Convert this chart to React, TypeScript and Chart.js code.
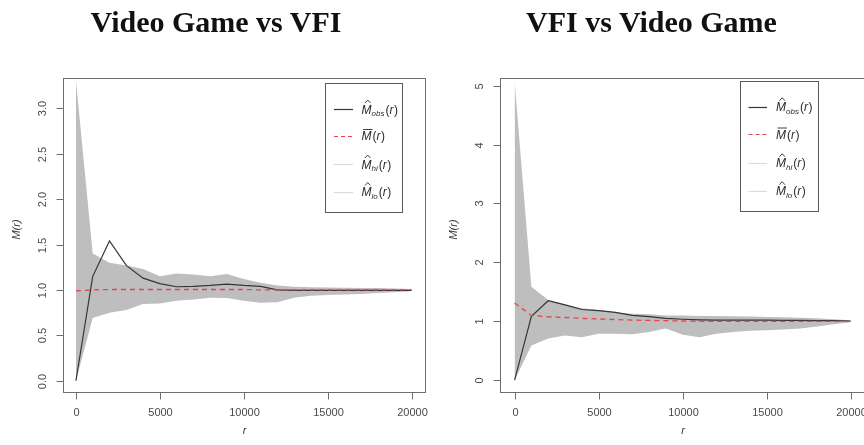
import React, { useEffect, useRef } from "react";
import { Chart, registerables } from "chart.js";

Chart.register(...registerables);

// ---------- data ----------
const R_VALUES = [0, 1000, 2000, 3000, 4000, 5000, 6000, 7000, 8000, 9000, 10000, 11000, 12000, 13000, 14000, 15000, 16000, 17000, 18000, 19000, 20000];

const LEFT_OBS = [0, 1.15, 1.54, 1.27, 1.13, 1.07, 1.035, 1.04, 1.05, 1.065, 1.05, 1.04, 1.0, 0.995, 0.995, 0.995, 0.995, 0.995, 0.995, 0.995, 0.995];
const LEFT_MEAN = [0.99, 1.0, 1.005, 1.005, 1.005, 1.005, 1.005, 1.005, 1.005, 1.005, 1.005, 1.0, 1.0, 1.0, 1.0, 1.0, 1.0, 1.0, 1.0, 1.0, 1.0];
const LEFT_HI = [3.31, 1.4, 1.3, 1.27, 1.23, 1.15, 1.18, 1.17, 1.15, 1.175, 1.12, 1.08, 1.05, 1.035, 1.03, 1.027, 1.025, 1.022, 1.02, 1.015, 1.01];
const LEFT_LO = [0, 0.69, 0.75, 0.78, 0.845, 0.85, 0.88, 0.895, 0.915, 0.91, 0.88, 0.86, 0.865, 0.915, 0.935, 0.945, 0.95, 0.955, 0.965, 0.975, 0.985];

const RIGHT_OBS = [0, 1.085, 1.35, 1.28, 1.2, 1.18, 1.15, 1.1, 1.08, 1.05, 1.035, 1.025, 1.02, 1.02, 1.02, 1.02, 1.015, 1.015, 1.01, 1.01, 1.005];
const RIGHT_MEAN = [1.31, 1.1, 1.075, 1.065, 1.05, 1.04, 1.03, 1.02, 1.015, 1.01, 1.005, 1.0, 1.0, 1.0, 1.0, 1.0, 1.0, 1.0, 1.0, 1.0, 1.0];
const RIGHT_HI = [5.08, 1.585, 1.36, 1.29, 1.22, 1.19, 1.155, 1.13, 1.12, 1.1, 1.1, 1.09, 1.09, 1.085, 1.08, 1.075, 1.07, 1.06, 1.05, 1.035, 1.02];
const RIGHT_LO = [0, 0.59, 0.71, 0.76, 0.73, 0.79, 0.79, 0.78, 0.82, 0.88, 0.77, 0.73, 0.79, 0.82, 0.84, 0.85, 0.86, 0.88, 0.91, 0.95, 0.985];

const X_TICKS = [0, 5000, 10000, 15000, 20000];
const LEFT_Y_TICKS = [0, 0.5, 1.0, 1.5, 2.0, 2.5, 3.0];
const LEFT_Y_LABELS = ["0.0", "0.5", "1.0", "1.5", "2.0", "2.5", "3.0"];
const RIGHT_Y_TICKS = [0, 1, 2, 3, 4, 5];
const RIGHT_Y_LABELS = ["0", "1", "2", "3", "4", "5"];

const TITLES = ["Video Game vs VFI", "VFI vs Video Game"];

// ---------- styles ----------
const ENVELOPE = "#bebebe";
const OBS_COLOR = "#353535";
const MEAN_COLOR = "#e8404f";
const LIGHT_LINE = "#dadada";
const AXIS_COLOR = "#6e6e6e";
const TICK_TEXT = "#4a4a4a";
const SANS = '"Liberation Sans", Arial, sans-serif';

type Legend = { x: number; y: number; w: number; h: number; lx1: number; lx2: number; tx: number; rows: number[] };
type Panel = {
  obs: number[]; mean: number[]; hi: number[]; lo: number[];
  xMin: number; xMax: number; yMin: number; yMax: number;
  yTicks: number[]; yLabels: string[];
  left: number; width: number;
  padding: { left: number; top: number; right: number; bottom: number };
  legend: Legend;
};

const PANELS: Panel[] = [
  {
    obs: LEFT_OBS, mean: LEFT_MEAN, hi: LEFT_HI, lo: LEFT_LO,
    xMin: -800, xMax: 20800, yMin: -0.124, yMax: 3.334,
    yTicks: LEFT_Y_TICKS, yLabels: LEFT_Y_LABELS,
    left: 0, width: 432,
    padding: { left: 62.5, top: 78, right: 7, bottom: 53 },
    legend: { x: 325, y: 82.5, w: 76.5, h: 128.5, lx1: 334, lx2: 353, tx: 361.5, rows: [109, 135.5, 164, 191.5] },
  },
  {
    obs: RIGHT_OBS, mean: RIGHT_MEAN, hi: RIGHT_HI, lo: RIGHT_LO,
    xMin: -850, xMax: 20850, yMin: -0.2, yMax: 5.13,
    yTicks: RIGHT_Y_TICKS, yLabels: RIGHT_Y_LABELS,
    left: 432, width: 440,
    padding: { left: 68.3, top: 78, right: 7, bottom: 53 },
    legend: { x: 307.5, y: 80.5, w: 77.5, h: 129.5, lx1: 316.5, lx2: 335, tx: 344, rows: [106.7, 134, 162.7, 190.7] },
  },
];

function drawMath(ctx: CanvasRenderingContext2D, x: number, base: number, accent: "hat" | "bar", sub: string | null) {
  ctx.fillStyle = "#2a2a2a";
  ctx.textAlign = "left";
  ctx.textBaseline = "alphabetic";
  ctx.font = `italic 12px ${SANS}`;
  ctx.fillText("M", x, base);
  const mw = ctx.measureText("M").width;
  ctx.strokeStyle = "#2a2a2a";
  ctx.lineWidth = 0.9;
  ctx.beginPath();
  if (accent === "hat") {
    ctx.moveTo(x + mw * 0.35, base - 10.5);
    ctx.lineTo(x + mw * 0.62, base - 13.5);
    ctx.lineTo(x + mw * 0.89, base - 10.5);
  } else {
    ctx.moveTo(x + 1.5, base - 10.5);
    ctx.lineTo(x + mw + 1, base - 10.5);
  }
  ctx.stroke();
  let cx = x + mw;
  if (sub) {
    ctx.font = `italic 8px ${SANS}`;
    ctx.fillText(sub, cx, base + 2.5);
    cx += ctx.measureText(sub).width;
  }
  ctx.font = `12px ${SANS}`;
  ctx.fillText("(", cx + 1, base);
  cx += 1 + ctx.measureText("(").width;
  ctx.font = `italic 12px ${SANS}`;
  ctx.fillText("r", cx, base);
  cx += ctx.measureText("r").width + 0.5;
  ctx.font = `12px ${SANS}`;
  ctx.fillText(")", cx, base);
}

function makeAxesPlugin(p: Panel) {
  return {
    id: "rAxes",
    afterDraw(chart: any) {
      const ctx: CanvasRenderingContext2D = chart.ctx;
      const a = chart.chartArea;
      const xs = chart.scales.x;
      const ys = chart.scales.y;
      ctx.save();
      ctx.strokeStyle = AXIS_COLOR;
      ctx.lineWidth = 1;
      const L = Math.round(a.left) + 0.5;
      const T = Math.round(a.top) + 0.5;
      const Rr = Math.round(a.right) + 0.5;
      const B = Math.round(a.bottom) + 0.5;
      ctx.strokeRect(L, T, Rr - L, B - T);

      ctx.fillStyle = TICK_TEXT;
      ctx.font = `11px ${SANS}`;
      ctx.textAlign = "center";
      ctx.textBaseline = "middle";
      for (const v of X_TICKS) {
        const px = Math.round(xs.getPixelForValue(v)) + 0.5;
        ctx.beginPath();
        ctx.moveTo(px, B);
        ctx.lineTo(px, B + 7);
        ctx.stroke();
        ctx.fillText(String(v), px, B + 20.5);
      }
      p.yTicks.forEach((v, i) => {
        const py = Math.round(ys.getPixelForValue(v)) + 0.5;
        ctx.beginPath();
        ctx.moveTo(L, py);
        ctx.lineTo(L - 7, py);
        ctx.stroke();
        ctx.save();
        ctx.translate(L - 20.5, py);
        ctx.rotate(-Math.PI / 2);
        ctx.fillText(p.yLabels[i], 0, 0);
        ctx.restore();
      });

      // axis titles
      ctx.font = `italic 11px ${SANS}`;
      ctx.fillStyle = "#3a3a3a";
      ctx.fillText("r", (L + Rr) / 2, B + 38);
      ctx.save();
      ctx.translate(L - 47, (T + B) / 2 - 6);
      ctx.rotate(-Math.PI / 2);
      ctx.fillText("M(r)", 0, 0);
      ctx.restore();

      // legend
      const lg = p.legend;
      ctx.fillStyle = "#ffffff";
      ctx.fillRect(lg.x, lg.y, lg.w, lg.h);
      ctx.strokeStyle = "#5a5a5a";
      ctx.lineWidth = 1;
      ctx.strokeRect(Math.round(lg.x) + 0.5, Math.round(lg.y) + 0.5, Math.round(lg.w), Math.round(lg.h));
      const styles = [
        { c: OBS_COLOR, dash: [] as number[], accent: "hat" as const, sub: "obs" },
        { c: MEAN_COLOR, dash: [4, 3], accent: "bar" as const, sub: null },
        { c: LIGHT_LINE, dash: [] as number[], accent: "hat" as const, sub: "hi" },
        { c: LIGHT_LINE, dash: [] as number[], accent: "hat" as const, sub: "lo" },
      ];
      styles.forEach((s, i) => {
        const y = Math.round(lg.rows[i]) + 0.5;
        ctx.strokeStyle = s.c;
        ctx.lineWidth = 1.2;
        ctx.setLineDash(s.dash);
        ctx.beginPath();
        ctx.moveTo(lg.lx1, y);
        ctx.lineTo(lg.lx2, y);
        ctx.stroke();
        ctx.setLineDash([]);
        drawMath(ctx, lg.tx, lg.rows[i] + 4.5, s.accent, s.sub);
      });
      ctx.restore();
    },
  };
}

function toPoints(vals: number[]) {
  return vals.map((v, i) => ({ x: R_VALUES[i], y: v }));
}

function PanelChart({ panel }: { panel: Panel }) {
  const ref = useRef<HTMLCanvasElement | null>(null);
  useEffect(() => {
    if (!ref.current) return;
    const chart = new Chart(ref.current, {
      type: "line",
      data: {
        datasets: [
          { label: "hi", data: toPoints(panel.hi), borderWidth: 0, borderColor: ENVELOPE, backgroundColor: ENVELOPE, fill: "+1", pointRadius: 0, tension: 0, order: 3 },
          { label: "lo", data: toPoints(panel.lo), borderWidth: 0, borderColor: ENVELOPE, backgroundColor: ENVELOPE, fill: false, pointRadius: 0, tension: 0, order: 3 },
          { label: "obs", data: toPoints(panel.obs), borderWidth: 1.2, borderColor: OBS_COLOR, fill: false, pointRadius: 0, tension: 0, order: 2 },
          { label: "mean", data: toPoints(panel.mean), borderWidth: 1.3, borderColor: MEAN_COLOR, borderDash: [5, 4], fill: false, pointRadius: 0, tension: 0, order: 1 },
        ],
      } as any,
      options: {
        animation: false,
        responsive: false,
        devicePixelRatio: 1,
        layout: { padding: panel.padding },
        plugins: { legend: { display: false }, tooltip: { enabled: false }, title: { display: false } },
        scales: {
          x: { type: "linear", min: panel.xMin, max: panel.xMax, display: false },
          y: { type: "linear", min: panel.yMin, max: panel.yMax, display: false },
        },
      } as any,
      plugins: [makeAxesPlugin(panel)],
    });
    return () => chart.destroy();
  }, [panel]);
  return (
    <canvas ref={ref} width={panel.width} height={445} style={{ position: "absolute", left: 0, top: 0, width: panel.width, height: 445 }} />
  );
}

export default function App() {
  return (
    <div style={{ position: "absolute", left: 0, top: 0, width: 864, height: 445, overflow: "hidden", background: "#fff" }}>
      {PANELS.map((p, i) => (
        <div key={i} style={{ position: "absolute", left: p.left, top: 0, width: 864 - p.left < 432 ? 864 - p.left : 432, height: 445, overflow: "hidden" }}>
          <PanelChart panel={p} />
        </div>
      ))}
      {TITLES.map((t, i) => (
        <div
          key={t}
          style={{
            position: "absolute",
            left: i === 0 ? 216 - 200 : 651.5 - 200,
            width: 400,
            top: 7,
            textAlign: "center",
            font: 'bold 30px "Liberation Serif", "Times New Roman", serif',
            lineHeight: "30px",
            color: "#111",
            whiteSpace: "nowrap",
          }}
        >
          {t}
        </div>
      ))}
    </div>
  );
}
